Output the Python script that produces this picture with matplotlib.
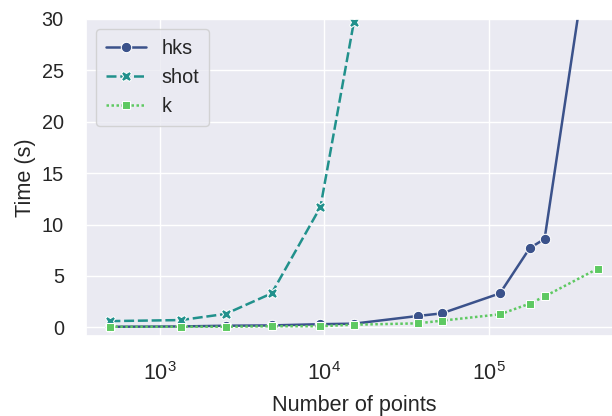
import numpy as np
import matplotlib
matplotlib.use("Agg")
import matplotlib.pyplot as plt
import seaborn as sns

# number of points for each run
n_points = [500, 1340, 2510, 4780, 9460, 15100, 37000, 51600, 116700, 177000, 218000, 458000]
# timings in seconds
hks_time = [0.05, 0.08, 0.15, 0.18, 0.3, 0.35, 1.1, 1.35, 3.3, 7.7, 8.6, 43.0]
shot_time = [0.6, 0.7, 1.3, 3.3, 11.7, 29.7]
k_time = [0.05, 0.05, 0.05, 0.1, 0.1, 0.25, 0.38, 0.64, 1.26, 2.3, 3.0, 5.7]

sns.set_theme(style="darkgrid", font_scale=1.3)
plt.rcParams['font.family'] = ['Liberation Sans', 'DejaVu Sans']

colors = sns.color_palette("viridis", 3)

fig = plt.figure(figsize=(6.12, 4.16), dpi=100)
ax = fig.add_axes([86 / 612, 80 / 416, 536 / 612, 317 / 416])

lw = 1.8
ax.plot(n_points, hks_time, color=colors[0], lw=lw, marker="o", ms=7.5,
        mec="w", mew=0.75, label="hks")
ax.plot(n_points[:len(shot_time)], shot_time, color=colors[1], lw=lw,
        dashes=(4, 1.5), marker="X", ms=7.5, mec="w", mew=0.75, label="shot")
ax.plot(n_points, k_time, color=colors[2], lw=lw, dashes=(1, 1),
        marker=(4, 0, 45), ms=7.5, mec="w", mew=0.75, label="k")

ax.set_xscale("log")
ax.set_ylim(-0.85, 30)
ax.set_xlabel("Number of points", labelpad=7)
ax.set_ylabel("Time (s)")
ax.tick_params(axis="y", length=0, pad=16)
ax.tick_params(axis="x", length=0, pad=19, labelsize=15.5)

ax.legend(loc="upper left", borderpad=0.5)

fig.savefig("out.png", dpi=100)
